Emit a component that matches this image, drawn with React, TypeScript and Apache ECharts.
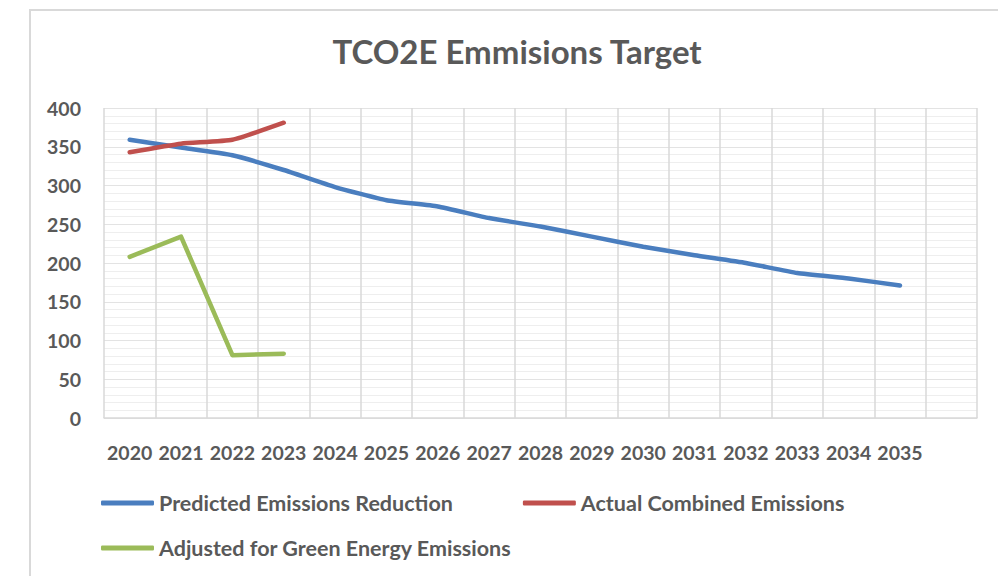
import React, { useEffect, useRef } from "react";
import * as echarts from "echarts";

const years = ["2020", "2021", "2022", "2023", "2024", "2025", "2026", "2027", "2028", "2029", "2030", "2031", "2032", "2033", "2034", "2035", ""];
const predicted = [359, 349, 339, 320, 298, 281, 273, 258, 247, 234, 221, 210, 200, 187, 180, 171, null];
const actual = [343, 354, 359, 381, null, null, null, null, null, null, null, null, null, null, null, null, null];
const adjusted = [208, 234, 81, 83, null, null, null, null, null, null, null, null, null, null, null, null, null];

const FONT = "Lato";
const TXT = "#595959";

export default function App() {
  const ref = useRef<HTMLDivElement>(null);
  useEffect(() => {
    if (!ref.current) return;
    const chart = echarts.init(ref.current, undefined, { renderer: "svg" });
    const legendText = { fontFamily: FONT, fontWeight: "bold", fontSize: 21.5, color: TXT };
    chart.setOption({
      animation: false,
      backgroundColor: "#ffffff",
      textStyle: { fontFamily: FONT },
      title: {
        text: "TCO2E Emmisions Target",
        left: 517,
        textAlign: "center",
        top: 34,
        padding: 0,
        textStyle: { fontFamily: FONT, fontWeight: "bold", fontSize: 33, color: TXT },
      },
      graphic: [
        {
          type: "rect",
          shape: { x: 30, y: 10, width: 1000, height: 700 },
          style: { fill: "none", stroke: "#d9d9d9", lineWidth: 2 },
          silent: true,
        },
      ],
      legend: [
        {
          left: 101,
          top: 492,
          padding: 0,
          icon: "roundRect",
          itemWidth: 53,
          itemHeight: 5,
          itemGap: 70,
          data: ["Predicted Emissions Reduction", "Actual Combined Emissions"],
          textStyle: legendText,
        },
        {
          left: 101,
          top: 537,
          padding: 0,
          icon: "roundRect",
          itemWidth: 53,
          itemHeight: 5,
          data: ["Adjusted for Green Energy Emissions"],
          textStyle: legendText,
        },
      ],
      grid: { left: 104, right: 21, top: 108, bottom: 158, containLabel: false },
      xAxis: {
        type: "category",
        data: years,
        boundaryGap: true,
        axisLine: { show: true, lineStyle: { color: "#d9d9d9", width: 1.5 } },
        axisTick: { show: false },
        axisLabel: {
          margin: 24,
          interval: 0,
          fontFamily: FONT,
          fontWeight: "bold",
          fontSize: 19.5,
          color: TXT,
        },
        splitLine: { show: true, lineStyle: { color: "#d9d9d9", width: 1.5 } },
      },
      yAxis: {
        type: "value",
        min: 0,
        max: 400,
        interval: 50,
        axisLine: { show: false },
        axisTick: { show: false },
        axisLabel: {
          margin: 23,
          fontFamily: FONT,
          fontWeight: "bold",
          fontSize: 19.5,
          color: TXT,
        },
        splitLine: { show: true, lineStyle: { color: "#e3e3e3", width: 1 } },
        minorTick: { show: false, splitNumber: 5 },
        minorSplitLine: { show: true, lineStyle: { color: "#eeeeee", width: 1 } },
      },
      series: [
        {
          name: "Predicted Emissions Reduction",
          type: "line",
          data: predicted,
          smooth: 0.15,
          symbol: "none",
          color: "#4a7ebf",
          lineStyle: { width: 4.5, color: "#4a7ebf", cap: "round", join: "round" },
        },
        {
          name: "Actual Combined Emissions",
          type: "line",
          data: actual,
          smooth: 0.15,
          symbol: "none",
          color: "#c0504d",
          lineStyle: { width: 4.5, color: "#c0504d", cap: "round", join: "round" },
        },
        {
          name: "Adjusted for Green Energy Emissions",
          type: "line",
          data: adjusted,
          smooth: false,
          symbol: "none",
          color: "#9bbb59",
          lineStyle: { width: 4.5, color: "#9bbb59", cap: "round", join: "round" },
        },
      ],
    });
    return () => chart.dispose();
  }, []);
  return <div ref={ref} style={{ width: 998, height: 576, position: "absolute", left: 0, top: 0 }} />;
}
